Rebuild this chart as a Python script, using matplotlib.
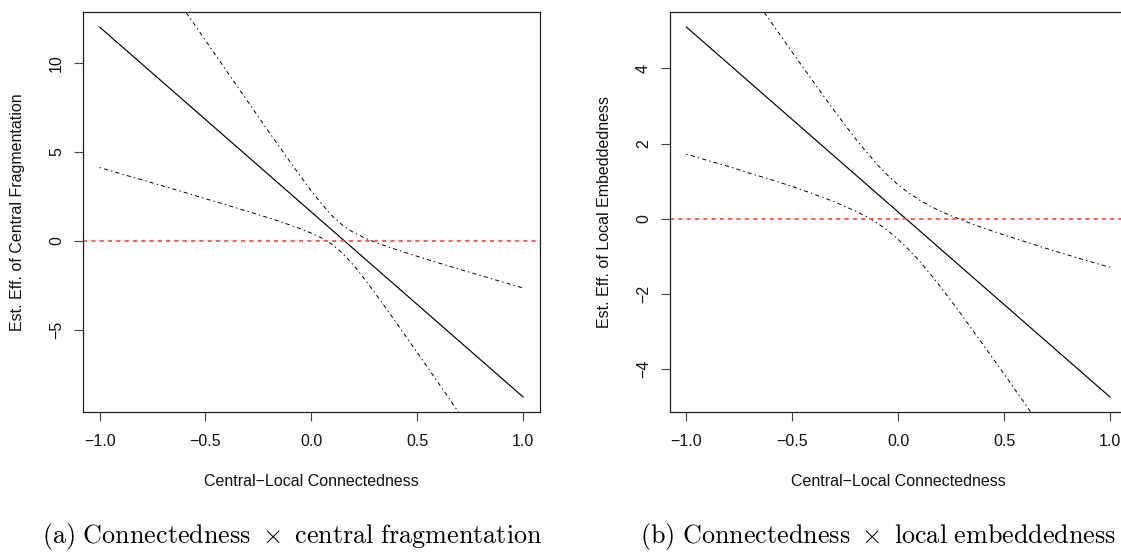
import matplotlib
matplotlib.use("Agg")
import matplotlib.pyplot as plt

plt.rcParams['font.family'] = ['Liberation Sans', 'DejaVu Sans']
plt.rcParams['mathtext.fontset'] = 'cm'

conn = [-1.0, -0.9, -0.8, -0.7, -0.6, -0.5, -0.4, -0.3, -0.2, -0.15, -0.1,
        -0.05, 0.0, 0.05, 0.1, 0.15, 0.2, 0.25, 0.3, 0.35, 0.4, 0.5, 0.6,
        0.7, 0.8, 0.9, 1.0]
conn_ends = [-1.0, 1.0]

# (a) central fragmentation
frag_est = [12.0, -8.75]
frag_upper = [19.88, 18.15, 16.42, 14.70, 12.97, 11.25, 9.53, 7.82, 6.11,
              5.27, 4.43, 3.61, 2.81, 2.06, 1.39, 0.86, 0.47, 0.18, -0.07,
              -0.28, -0.48, -0.86, -1.23, -1.59, -1.94, -2.29, -2.64]
frag_lower = [4.12, 3.77, 3.43, 3.08, 2.73, 2.37, 2.02, 1.66, 1.29, 1.10,
              0.89, 0.68, 0.44, 0.16, -0.21, -0.72, -1.37, -2.12, -2.91,
              -3.73, -4.57, -6.26, -7.97, -9.69, -11.41, -13.13, -14.86]

# (b) local embeddedness
emb_est = [5.1, -4.74]
emb_upper = [8.48, 7.66, 6.85, 6.03, 5.23, 4.43, 3.64, 2.86, 2.12, 1.78,
             1.45, 1.16, 0.90, 0.69, 0.50, 0.34, 0.20, 0.08, -0.03, -0.14,
             -0.24, -0.43, -0.61, -0.79, -0.96, -1.13, -1.29]
emb_lower = [1.72, 1.55, 1.39, 1.21, 1.04, 0.86, 0.66, 0.45, 0.20, 0.06,
             -0.11, -0.31, -0.55, -0.82, -1.12, -1.46, -1.81, -2.18, -2.56,
             -2.95, -3.34, -4.13, -4.93, -5.74, -6.56, -7.37, -8.19]

x_ticks = [-1.0, -0.5, 0.0, 0.5, 1.0]
x_ticklabels = ["\u22121.0", "\u22120.5", "0.0", "0.5", "1.0"]
frag_yticks = [-5, 0, 5, 10]
frag_yticklabels = ["\u22125", "0", "5", "10"]
emb_yticks = [-4, -2, 0, 2, 4]
emb_yticklabels = ["\u22124", "\u22122", "0", "2", "4"]

xlabel = "Central\u2212Local Connectedness"
frag_ylabel = "Est. Eff. of Central Fragmentation"
emb_ylabel = "Est. Eff. of Local Embeddedness"
cap_a = r"$\mathrm{(a)\ Connectedness}\ \times\ \mathrm{central\ fragmentation}$"
cap_b = r"$\mathrm{(b)\ Connectedness}\ \times\ \mathrm{local\ embeddedness}$"

fig = plt.figure(figsize=(11.21, 5.53), dpi=100)
W, H = 1121.0, 553.0
ax_w, ax_h = 457.3, 399.4
ax1 = fig.add_axes([82.7 / W, (H - 411.7) / H, ax_w / W, ax_h / H])
ax2 = fig.add_axes([669.5 / W, (H - 411.7) / H, ax_w / W, ax_h / H])


def r_style(ax, est, upper, lower, yticks, yticklabels, ylabel):
    # R-like padded limits (4%) from the fitted line
    lo, hi = min(est), max(est)
    pad = 0.04 * (hi - lo)
    xpad = 0.04 * (conn_ends[1] - conn_ends[0])
    ax.plot(conn_ends, est, color='black', lw=0.85)
    ax.plot(conn, upper, color='black', lw=0.7, dashes=(1.5, 3.2, 4.3, 3.2))
    ax.plot(conn, lower, color='black', lw=0.7, dashes=(1.5, 3.2, 4.3, 3.2))
    ax.axhline(0, color='#ff5050', lw=1.3, dashes=(2.3, 2.3))
    ax.set_xlim(conn_ends[0] - xpad, conn_ends[1] + xpad)
    ax.set_ylim(lo - pad, hi + pad)

    ax.set_xticks(x_ticks)
    ax.set_xticklabels(x_ticklabels)
    ax.set_yticks(yticks)
    ax.set_yticklabels(yticklabels, rotation=90, va='center')
    ax.tick_params(direction='out', length=6.8, width=0.8, color='#444444',
                   labelsize=11.5, labelcolor='#111111')
    ax.tick_params(axis='x', pad=9.5)
    ax.tick_params(axis='y', pad=6.5)
    for s in ax.spines.values():
        s.set_linewidth(0.9)
        s.set_color('#222222')

    ax.set_xlabel(xlabel, fontsize=11.5, color='#111111')
    ax.set_ylabel(ylabel, fontsize=11.5, color='#111111')
    ax.xaxis.set_label_coords(0.5, -62.4 / ax_h)
    ax.yaxis.set_label_coords(-57.6 / ax_w, 0.5)


r_style(ax1, frag_est, frag_upper, frag_lower, frag_yticks, frag_yticklabels, frag_ylabel)
r_style(ax2, emb_est, emb_upper, emb_lower, emb_yticks, emb_yticklabels, emb_ylabel)

# Sub-figure captions
fig.text(292 / W, (H - 537) / H, cap_a, ha='center', va='center', fontsize=18.8)
fig.text(878 / W, (H - 537) / H, cap_b, ha='center', va='center', fontsize=18.8)

fig.savefig("out.png", dpi=100)
